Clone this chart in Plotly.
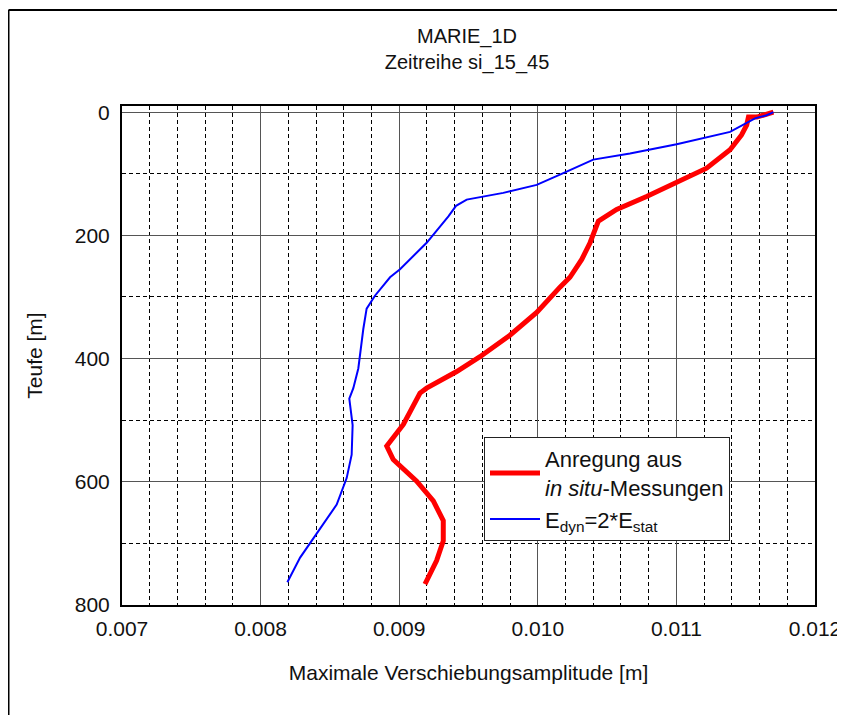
import plotly.graph_objects as go

# Anregung aus in situ-Messungen
red_depth = [0, 8, 8, 21, 37, 61, 91, 115, 137, 158, 177, 212, 239, 268, 284, 325, 362, 397, 421, 448, 456,
             507, 542, 564, 599, 631, 663, 696, 728, 766]
red_x = [0.01170, 0.01158, 0.01152, 0.011507, 0.01147, 0.011387, 0.011218, 0.011002, 0.010785, 0.010569, 0.010437,
         0.010377, 0.010317, 0.010232, 0.01016, 0.009992, 0.009799, 0.009583, 0.009415, 0.009198, 0.00915,
         0.00903, 0.00891, 0.008957, 0.009126, 0.009246, 0.009318, 0.009318, 0.00927, 0.009186]

# E_dyn = 2*E_stat
blue_depth = [0, 5, 8.5, 10, 32, 52, 67, 77, 99, 118, 131, 142, 152, 169, 212, 239, 255, 268, 298, 319, 352,
              416, 448, 465, 508, 556, 594, 637, 685, 723, 763]
blue_x = [0.01170, 0.011651, 0.011591, 0.011567, 0.011387, 0.011002, 0.010665, 0.0104, 0.010184, 0.009992,
          0.009751, 0.009487, 0.00941, 0.009355, 0.009198, 0.009078, 0.009006, 0.008934, 0.008825, 0.008765,
          0.008741, 0.008705, 0.008669, 0.00864, 0.008664, 0.008657, 0.008621, 0.008549, 0.008405, 0.008285,
          0.008193]

x_ticks = [0.007, 0.008, 0.009, 0.010, 0.011, 0.012]
x_ticklabels = ["0.007", "0.008", "0.009", "0.010", "0.011", "0.012"]
y_ticks = [0, 200, 400, 600, 800]

FONT = "Liberation Sans, Arial, sans-serif"
FS = 21

# figure is drawn with the page's 8px body margin, so work in figure coordinates
W, H = 837, 707
L, R, T, B = 114, 30, 98, 110
PW, PH = W - L - R, H - T - B

fig = go.Figure()
fig.add_trace(go.Scatter(x=red_x, y=red_depth, mode="lines",
                         line=dict(color="#ff0000", width=5),
                         name="Anregung aus<br><i>in situ</i>-Messungen"))
fig.add_trace(go.Scatter(x=blue_x, y=blue_depth, mode="lines",
                         line=dict(color="#0000ff", width=2),
                         name="E<sub>dyn</sub>=2*E<sub>stat</sub>"))

fig.update_layout(
    width=W, height=H,
    margin=dict(l=L, r=R, t=T, b=B, autoexpand=False),
    paper_bgcolor="white", plot_bgcolor="white",
    font=dict(family=FONT, size=FS, color="#111111"),
    title=dict(text="MARIE_1D<br>Zeitreihe si_15_45", x=(459 / W), xanchor="center",
               y=1 - 35 / H, yanchor="middle", font=dict(size=20)),
    showlegend=True,
    legend=dict(x=(476 - L) / PW, y=(H - B - 429) / PH, xanchor="left", yanchor="top",
                bgcolor="white", bordercolor="#222222", borderwidth=1,
                font=dict(size=22), tracegroupgap=0, itemwidth=50),
    xaxis=dict(range=[0.007, 0.012], tickvals=x_ticks, ticktext=x_ticklabels,
               showline=True, linecolor="black", linewidth=2, mirror=True,
               showgrid=True, gridcolor="#555555", gridwidth=1,
               zeroline=False, ticks="", ticklen=0, automargin=False,
               ticklabelstandoff=4,
               tickfont=dict(size=FS),
               title=dict(text="Maximale Verschiebungsamplitude [m]", font=dict(size=FS), standoff=26),
               minor=dict(dtick=0.0002, tick0=0.007, showgrid=True, gridcolor="black",
                          griddash="4px,3px", gridwidth=1)),
    yaxis=dict(range=[800, -10], tickvals=y_ticks,
               showline=True, linecolor="black", linewidth=2, mirror=True,
               showgrid=True, gridcolor="#555555", gridwidth=1,
               zeroline=False, ticks="", ticklen=0, automargin=False,
               ticklabelstandoff=6,
               tickfont=dict(size=FS),
               title=dict(text="Teufe [m]", font=dict(size=FS), standoff=26),
               minor=dict(dtick=100, tick0=0, showgrid=True, gridcolor="black",
                          griddash="4px,3px", gridwidth=1)),
)

# outer frame (left and top edge)
fx = (0.5 - L) / PW
fy = (H - B - 2) / PH
fig.add_shape(type="line", xref="paper", yref="paper",
              x0=fx, x1=fx, y0=(H - B - H) / PH, y1=fy,
              line=dict(color="black", width=2))
fig.add_shape(type="line", xref="paper", yref="paper",
              x0=fx, x1=(W - L) / PW, y0=fy, y1=fy,
              line=dict(color="black", width=2))

fig.write_html("out.html")
